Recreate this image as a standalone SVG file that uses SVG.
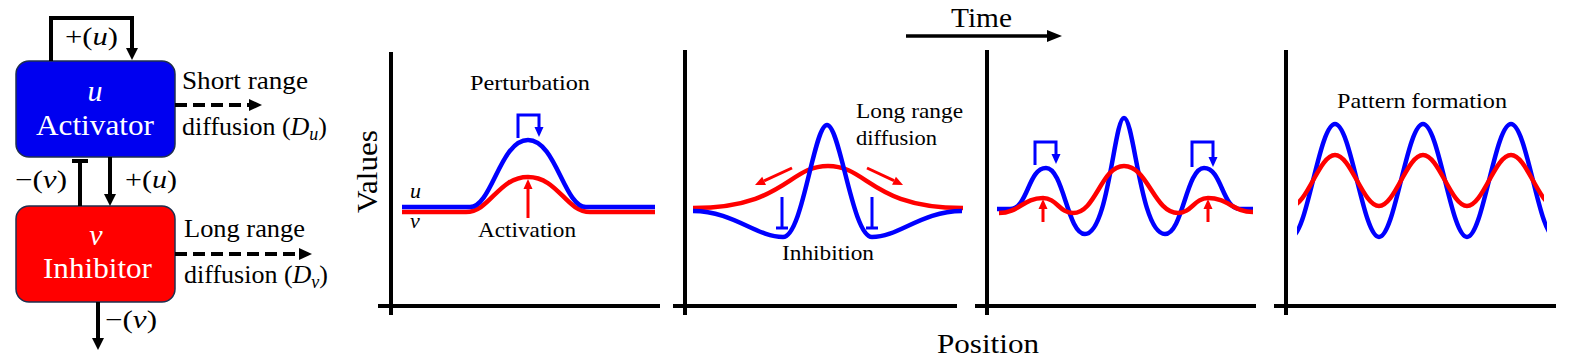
<svg xmlns="http://www.w3.org/2000/svg" width="1578" height="358" viewBox="0 0 1578 358">
<style>
text{font-family:'Liberation Serif','Times New Roman',serif;fill:#000}
.it{font-style:italic}
.wt{fill:#fff}
.k{stroke:#000;stroke-width:4;fill:none}
.ax{stroke:#000;stroke-width:4;fill:none}
.bl{stroke:#0000ff;stroke-width:4.5;fill:none;stroke-linejoin:round}
.rd{stroke:#ff0000;stroke-width:4.5;fill:none;stroke-linejoin:round}
.bls{stroke:#0000ff;stroke-width:3;fill:none}
.rds{stroke:#ff0000;stroke-width:3;fill:none}
.box{stroke:#1f2f4f;stroke-width:1.5}
</style>
<defs>
<marker id="ahk" markerUnits="userSpaceOnUse" markerWidth="13" markerHeight="13" refX="0" refY="6" orient="auto" overflow="visible"><path d="M0,0 L12,6 L0,12 z" fill="#000"/></marker>
<marker id="ahd" markerUnits="userSpaceOnUse" markerWidth="14" markerHeight="13" refX="0" refY="6" orient="auto" overflow="visible"><path d="M0,0 L13,6 L0,12 z" fill="#000"/></marker>
<marker id="aht" markerUnits="userSpaceOnUse" markerWidth="16" markerHeight="13" refX="0" refY="6" orient="auto" overflow="visible"><path d="M0,0 L15,6 L0,12 z" fill="#000"/></marker>
<marker id="ahb" markerUnits="userSpaceOnUse" markerWidth="11" markerHeight="10" refX="0" refY="4.5" orient="auto" overflow="visible"><path d="M0,0 L10,4.5 L0,9 z" fill="#0000ff"/></marker>
<marker id="ahr" markerUnits="userSpaceOnUse" markerWidth="11" markerHeight="10" refX="0" refY="4.5" orient="auto" overflow="visible"><path d="M0,0 L10,4.5 L0,9 z" fill="#ff0000"/></marker>
<clipPath id="cb4"><rect x="1297" y="100" width="250" height="160"/></clipPath>
<clipPath id="cr4"><rect x="1298" y="100" width="246" height="160"/></clipPath>
</defs>

<g id="activator">
<rect class="box" x="16" y="61" width="159" height="96" rx="13" fill="#0000f0"/>
<text class="wt it" x="95" y="101" font-size="30" text-anchor="middle">u</text>
<text class="wt" x="36" y="135" font-size="29" textLength="118" lengthAdjust="spacingAndGlyphs">Activator</text>
</g>
<g id="inhibitor">
<rect class="box" x="16" y="206" width="159" height="96" rx="13" fill="#ff0000"/>
<text class="wt it" x="96" y="245" font-size="30" text-anchor="middle">v</text>
<text class="wt" x="43" y="278" font-size="29" textLength="109" lengthAdjust="spacingAndGlyphs">Inhibitor</text>
</g>

<g id="connectors">
<path class="k" d="M51,61 V18 H132 V48" marker-end="url(#ahk)"/>
<path class="k" d="M110,157 V194" marker-end="url(#ahk)"/>
<path class="k" d="M80,206 V161"/>
<path class="k" d="M72,161 H88" stroke-width="5"/>
<path class="k" d="M98,302 V338" marker-end="url(#ahk)"/>
<path class="k" d="M175,105 H249" stroke-dasharray="12 6" marker-end="url(#ahd)"/>
<path class="k" d="M175,254 H299" stroke-dasharray="12 6" marker-end="url(#ahd)"/>
</g>

<g id="block-labels" font-size="25">
<text x="65" y="45" textLength="53" lengthAdjust="spacingAndGlyphs">+(<tspan class="it">u</tspan>)</text>
<text x="15" y="188" textLength="52" lengthAdjust="spacingAndGlyphs">−(<tspan class="it">v</tspan>)</text>
<text x="125" y="188" textLength="52" lengthAdjust="spacingAndGlyphs">+(<tspan class="it">u</tspan>)</text>
<text x="105" y="328" textLength="52" lengthAdjust="spacingAndGlyphs">−(<tspan class="it">v</tspan>)</text>
<text x="182" y="89" font-size="26" textLength="126" lengthAdjust="spacingAndGlyphs">Short range</text>
<text x="182" y="135" font-size="26">diffusion (<tspan class="it">D</tspan><tspan class="it" font-size="18" dy="5">u</tspan><tspan dy="-5">)</tspan></text>
<text x="184" y="237" font-size="26" textLength="121" lengthAdjust="spacingAndGlyphs">Long range</text>
<text x="184" y="283" font-size="26">diffusion (<tspan class="it">D</tspan><tspan class="it" font-size="18" dy="5">v</tspan><tspan dy="-5">)</tspan></text>
</g>

<g id="time-axis">
<text x="951" y="27" font-size="28" textLength="61" lengthAdjust="spacingAndGlyphs">Time</text>
<path d="M906,36 H1047" stroke="#000" stroke-width="3.5" marker-end="url(#aht)"/>
<text x="937" y="353" font-size="28" textLength="102" lengthAdjust="spacingAndGlyphs">Position</text>
<text transform="translate(377,171.5) rotate(-90)" font-size="29" text-anchor="middle" textLength="83" lengthAdjust="spacingAndGlyphs">Values</text>
</g>

<g id="panel1">
<path class="ax" d="M391,52 V315 M378,306 H660"/>
<path class="rd" d="M402,212 L466,212 C490,212 498,177 528,177 C558,177 566,212 590,212 L655,212"/>
<path class="bl" d="M402,207 L470,207 C492,207 500,140 528,140 C556,140 564,207 586,207 L655,207"/>
<path class="bls" d="M518,138 V115 H539 V127" marker-end="url(#ahb)"/>
<path class="rds" d="M528,218 V189" marker-end="url(#ahr)"/>
<text class="it" x="410" y="198" font-size="22">u</text>
<text class="it" x="410" y="228" font-size="22">v</text>
<text x="530" y="90" font-size="22" text-anchor="middle" textLength="120" lengthAdjust="spacingAndGlyphs">Perturbation</text>
<text x="527" y="237" font-size="22" text-anchor="middle" textLength="98" lengthAdjust="spacingAndGlyphs">Activation</text>
</g>

<g id="panel2">
<path class="ax" d="M685,50 V315 M673,306 H957"/>
<path class="rd" d="M693,208 C785,208 788,166 828,166 C868,166 871,208 963,208"/>
<path class="bl" d="M693,211 C733.5,211 756,237 783,237 C802.8,237 813.8,125 827,125 C840.2,125 852.2,237 872,237 C899,237 921.5,211 962,211"/>
<path class="rds" d="M792,168 L764.1,180.8" marker-end="url(#ahr)"/>
<path class="rds" d="M867,168 L894,180.7" marker-end="url(#ahr)"/>
<path class="bls" d="M782,197 V228 M776,228 H788 M872,197 V228 M866,228 H878"/>
<text x="856" y="118" font-size="22" textLength="107" lengthAdjust="spacingAndGlyphs">Long range</text>
<text x="856" y="145" font-size="22" textLength="81" lengthAdjust="spacingAndGlyphs">diffusion</text>
<text x="828" y="260" font-size="22" text-anchor="middle" textLength="92" lengthAdjust="spacingAndGlyphs">Inhibition</text>
</g>

<g id="panel3">
<path class="ax" d="M987,50 V315 M975,306 H1256"/>
<path class="bl" d="M997,209 L1010,209 C1028,209 1028,168 1046,168 C1063.5,168 1067.5,234 1085,234 C1108.4,234 1114.25,118 1124,118 C1134.25,118 1140.4,234 1165,234 C1182.55,234 1186.45,168 1204,168 C1222,168 1222,209 1240,209 L1253,209"/>
<path class="rd" d="M999,213 C1018.8,213 1023.2,198 1043,198 C1056.5,198 1059.5,213 1073,213 C1096,213 1101,166 1124,166 C1148,166 1154,213 1178,213 C1191.5,213 1194.5,198 1208,198 C1228,198 1233,212 1253,212"/>
<path class="bls" d="M1035,165 V142 H1056 V154" marker-end="url(#ahb)"/>
<path class="bls" d="M1192,167 V142 H1213 V157" marker-end="url(#ahb)"/>
<path class="rds" d="M1043,222 V209" marker-end="url(#ahr)"/>
<path class="rds" d="M1208,222 V209" marker-end="url(#ahr)"/>
</g>

<g id="panel4">
<path class="ax" d="M1286,50 V315 M1274,306 H1556"/>
<path class="bl" clip-path="url(#cb4)" d="M1291,237 C1298.96,237 1305.825,209.44 1313,180.5 C1320.175,151.56 1327.04,124 1335,124 C1342.96,124 1349.825,151.56 1357,180.5 C1364.175,209.44 1371.04,237 1379,237 C1386.96,237 1393.825,209.44 1401,180.5 C1408.175,151.56 1415.04,124 1423,124 C1430.96,124 1437.825,151.56 1445,180.5 C1452.175,209.44 1459.04,237 1467,237 C1474.96,237 1481.825,209.44 1489,180.5 C1496.175,151.56 1503.04,124 1511,124 C1518.96,124 1525.825,151.56 1533,180.5 C1540.175,209.44 1547.04,237 1555,237"/>
<path class="rd" stroke-width="3" clip-path="url(#cr4)" d="M1291,206 C1298.96,206 1305.825,193.56 1313,180.5 C1320.175,167.44 1327.04,155 1335,155 C1342.96,155 1349.825,167.44 1357,180.5 C1364.175,193.56 1371.04,206 1379,206 C1386.96,206 1393.825,193.56 1401,180.5 C1408.175,167.44 1415.04,155 1423,155 C1430.96,155 1437.825,167.44 1445,180.5 C1452.175,193.56 1459.04,206 1467,206 C1474.96,206 1481.825,193.56 1489,180.5 C1496.175,167.44 1503.04,155 1511,155 C1518.96,155 1525.825,167.44 1533,180.5 C1540.175,193.56 1547.04,206 1555,206"/>
<text x="1422" y="108" font-size="22" text-anchor="middle" textLength="170" lengthAdjust="spacingAndGlyphs">Pattern formation</text>
</g>
</svg>
